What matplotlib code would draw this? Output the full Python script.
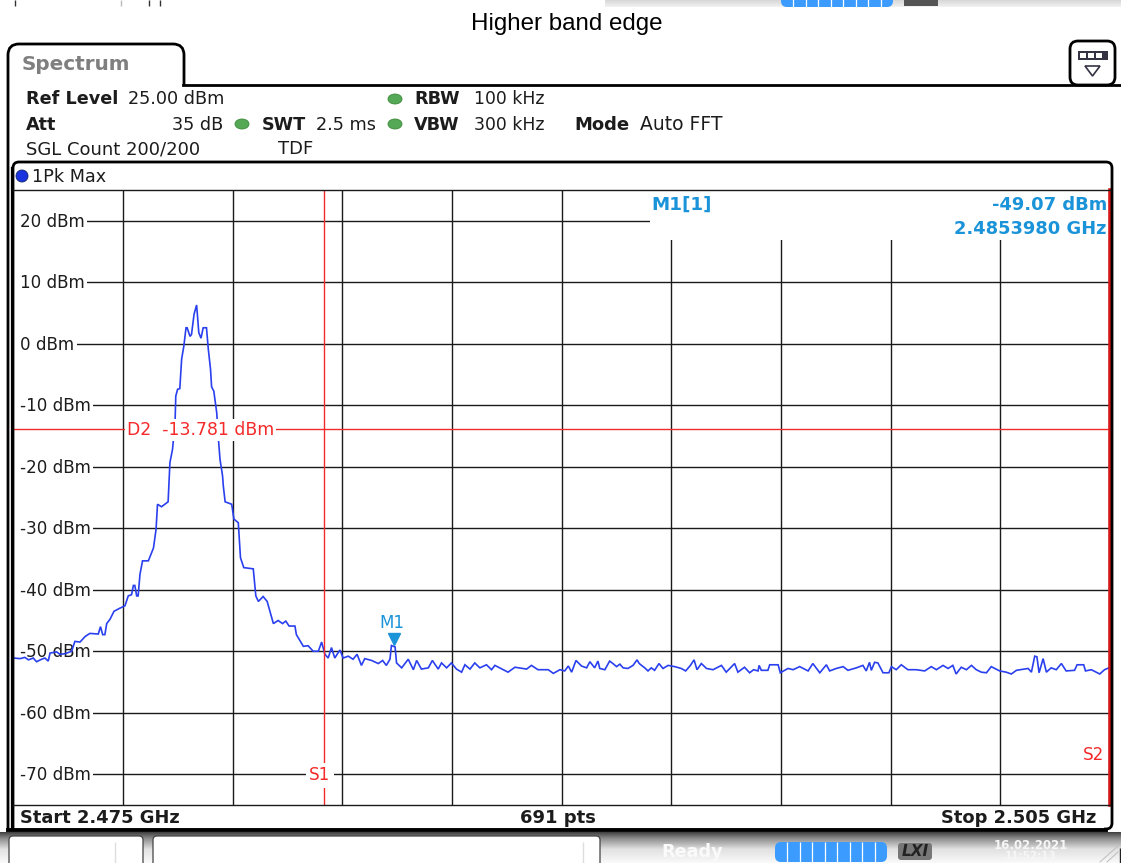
#!/usr/bin/env python3
# Redraws the "Higher band edge" spectrum analyser screenshot.
import matplotlib
matplotlib.use("Agg")
import matplotlib.pyplot as plt
import numpy as np
from matplotlib.patches import Ellipse, FancyBboxPatch, PathPatch, Polygon, Rectangle
from matplotlib.path import Path
from matplotlib.transforms import offset_copy

WIDTH, HEIGHT = 1121, 863

START_GHZ = 2.475
STOP_GHZ = 2.505
LEVEL_TICKS = [20, 10, 0, -10, -20, -30, -40, -50, -60, -70]
D2_LEVEL = -13.781
S1_GHZ = 2.48349
M1_GHZ = 2.485398
M1_LEVEL = -49.07

# Trace: MHz above the start frequency, and dBm.
trace_mhz = [
    0, .18, .31, .41, .54, .63, .77, .86, .95, 1.0, 1.18, 1.27, 1.41, 1.59, 1.68, 1.82,
    1.96, 2.09, 2.32, 2.38, 2.44, 2.50, 2.55, 2.64, 2.75, 2.91, 3.05, 3.14, 3.23, 3.28,
    3.32, 3.37, 3.41, 3.46, 3.53, 3.69, 3.83, 3.90, 3.94, 4.05, 4.23, 4.28, 4.35, 4.42,
    4.44, 4.49, 4.55, 4.60, 4.66, 4.72, 4.75, 4.83, 4.87, 4.94, 5.01, 5.07, 5.13, 5.19,
    5.28, 5.33, 5.39, 5.42, 5.48, 5.56, 5.60, 5.65, 5.72, 5.74, 5.79, 5.97, 6.03, 6.15,
    6.21, 6.30, 6.56, 6.63, 6.70, 6.83, 6.94, 7.11, 7.24, 7.36, 7.45, 7.54, 7.70, 7.74,
    7.84, 7.93, 8.06, 8.20, 8.34, 8.43, 8.52, 8.61, 8.70, 8.79, 8.93, 9.02, 9.16, 9.29,
    9.40, 9.52, 9.61, 9.80, 9.98, 10.1, 10.2, 10.3, 10.34, 10.44, 10.48, 10.62, 10.8,
    10.94, 11.03, 11.16, 11.35, 11.46, 11.62, 11.71, 11.85, 11.98, 12.12, 12.26, 12.35,
    12.49, 12.62, 12.76, 12.94, 13.08, 13.17, 13.4, 13.53, 13.72, 14.04, 14.17, 14.35,
    14.63, 14.77, 14.95, 15.08, 15.18, 15.27, 15.39, 15.54, 15.68, 15.77, 15.9, 15.99,
    16.04, 16.18, 16.31, 16.4, 16.5, 16.59, 16.68, 16.81, 16.95, 17.06, 17.12, 17.27,
    17.36, 17.45, 17.54, 17.66, 17.77, 17.91, 18.09, 18.27, 18.39, 18.52, 18.62, 18.7,
    18.82, 18.96, 19.14, 19.37, 19.5, 19.73, 19.82, 20.0, 20.14, 20.25, 20.37, 20.4,
    20.46, 20.64, 20.69, 20.92, 20.98, 21.19, 21.33, 21.51, 21.74, 21.87, 22.06, 22.24,
    22.33, 22.51, 22.70, 22.83, 23.06, 23.24, 23.33, 23.42, 23.47, 23.56, 23.65, 23.79,
    23.95, 24.02, 24.15, 24.29, 24.47, 24.70, 24.93, 25.11, 25.25, 25.43, 25.57, 25.70,
    25.79, 25.93, 26.07, 26.21, 26.34, 26.48, 26.62, 26.75, 26.98, 27.16, 27.3, 27.44,
    27.76, 27.85, 27.94, 28.0, 28.06, 28.17, 28.26, 28.39, 28.53, 28.67, 28.8, 29.03,
    29.1, 29.28, 29.33, 29.49, 29.72, 29.85, 29.97,
]
trace_dbm = [
    -51.1, -51.2, -51.0, -51.4, -51.1, -51.7, -51.3, -51.1, -51.6, -50.3, -50.1, -50.5,
    -50.4, -50.0, -48.4, -48.5, -47.6, -47.1, -47.2, -46.0, -47.3, -47.3, -45.5, -44.8,
    -43.5, -43.0, -42.6, -41.0, -40.8, -39.3, -39.3, -41.0, -41.0, -37.5, -35.3, -35.3,
    -33.2, -30.2, -26.1, -26.5, -25.7, -19.3, -17.2, -12.8, -8.5, -7.4, -7.3, -2.5,
    -0.4, 2.6, 2.6, 1.2, 1.5, 4.8, 6.3, 1.8, 0.9, 2.6, 2.6, -0.9, -4.1, -7.0, -7.7,
    -11.2, -15.0, -18.8, -21.5, -23.1, -25.7, -26.1, -28.5, -29.1, -34.8, -36.4, -36.6,
    -41.0, -41.9, -41.1, -41.9, -45.5, -45.0, -45.5, -45.1, -45.9, -45.9, -47.3, -48.3,
    -49.2, -49.1, -50.0, -50.0, -48.5, -50.5, -51.1, -49.4, -51.1, -49.8, -51.1, -50.8,
    -51.3, -50.5, -52.3, -51.2, -51.5, -52.0, -51.5, -52.3, -51.3, -49.07, -49.3, -51.9,
    -52.7, -51.3, -53.0, -51.5, -52.9, -52.7, -51.5, -52.9, -51.9, -52.7, -51.9, -52.9,
    -53.4, -52.2, -52.9, -51.9, -52.7, -52.2, -53.0, -52.3, -53.0, -53.4, -52.6, -52.9,
    -52.3, -53.0, -53.0, -53.6, -53.0, -53.2, -52.4, -53.4, -51.5, -52.4, -52.7, -51.7,
    -52.7, -51.6, -52.8, -53.0, -51.6, -52.0, -52.5, -52.1, -52.7, -52.8, -52.3, -51.4,
    -52.0, -52.7, -53.2, -52.7, -53.1, -52.0, -52.8, -52.3, -52.5, -52.8, -53.2, -52.3,
    -51.4, -53.0, -52.0, -52.8, -53.0, -52.3, -53.4, -52.0, -53.4, -52.6, -53.5, -53.0,
    -53.2, -52.3, -53.1, -53.1, -52.2, -52.2, -53.5, -52.8, -53.0, -52.5, -53.2, -52.0,
    -53.5, -52.2, -53.2, -52.8, -52.5, -53.1, -52.7, -52.3, -53.2, -51.8, -53.1, -51.8,
    -51.9, -53.5, -53.5, -52.5, -53.0, -52.2, -53.0, -53.0, -53.2, -52.5, -53.0, -52.3,
    -52.8, -52.3, -53.7, -52.6, -53.0, -52.3, -53.0, -53.4, -53.5, -52.5, -53.2, -53.4,
    -53.7, -53.1, -52.8, -53.4, -50.8, -50.9, -53.5, -51.2, -53.4, -52.7, -53.0, -52.0,
    -53.2, -53.1, -52.2, -52.2, -53.2, -53.0, -53.7, -53.0, -52.7,
]

TEXT = "#1c1c1c"
GRID = "#1a1a1a"
RED = "#f42a2a"
TRACE = "#2a40ee"
MARKER = "#1b93d9"
LED = "#55a855"
AXIS_SIZE = 12.1
HEAD_SIZE = 12.7
LABEL_NUDGE = 0.2  # dB, centres the level labels on their grid lines

plt.rcParams["font.family"] = ["DejaVu Sans"]

fig = plt.figure(figsize=(WIDTH / 100, HEIGHT / 100), dpi=100, facecolor="white")

# Screenshot frame and labels are laid out in picture pixels on this overlay.
ui = fig.add_axes([0, 0, 1, 1], zorder=5)
ui.patch.set_alpha(0)
ui.axis("off")

# Measurement area: 13.5..1110 px across, 190..805 px down.
ax = fig.add_axes([13.5 / WIDTH, 1 - 805 / HEIGHT, 1096.5 / WIDTH, 615 / HEIGHT], zorder=4)
ax.set_xlim(START_GHZ, STOP_GHZ)
ax.set_ylim(-75, 25)
ax.set_xticks([])
ax.set_yticks([])
for spine in ax.spines.values():
    spine.set_visible(False)


# Vertical grey ramp used for the instrument's status bars.
def ramp(x0, x1, y0, y1, positions, greys):
    levels = np.interp(np.linspace(0, 1, 64), positions, greys).reshape(64, 1)
    ui.imshow(np.dstack([levels] * 3), extent=(x0, x1, y1, y0), aspect="auto", zorder=1,
              interpolation="bilinear", vmin=0, vmax=1)


def label(x, y, s, bold=False, color=TEXT, ha="left", size=HEAD_SIZE):
    ui.text(x, y + 0.5, s, color=color, ha=ha, va="center", fontsize=size,
            fontweight="bold" if bold else "normal", zorder=6)


def rounded(x0, y0, x1, y1, radius=10, face="none", edge="black", lw=2.0, zorder=3):
    ui.add_patch(FancyBboxPatch((x0, y0), x1 - x0, y1 - y0,
                                boxstyle=f"round,pad=0,rounding_size={radius}",
                                fc=face, ec=edge, lw=lw, zorder=zorder))


# Open outline through the corner points, with each inner corner rounded off.
def outline(points, radius, lw, zorder=6):
    pts = np.array(points, dtype=float)
    verts, codes = [pts[0]], [Path.MOVETO]
    for prev, corner, nxt in zip(pts[:-2], pts[1:-1], pts[2:]):
        into = corner + (prev - corner) / np.linalg.norm(prev - corner) * radius
        out = corner + (nxt - corner) / np.linalg.norm(nxt - corner) * radius
        verts += [into, corner, out]
        codes += [Path.LINETO, Path.CURVE3, Path.CURVE3]
    verts.append(pts[-1])
    codes.append(Path.LINETO)
    ui.add_patch(PathPatch(Path(verts, codes), fc="none", ec="black", lw=lw, zorder=zorder))


# Blue progress bar with its white segment dividers.
def progress(x0, x1, y0, y1):
    rounded(x0, y0, x1, y1, radius=6, face="#3c9bff", edge="none", lw=0, zorder=2)
    ui.vlines(np.linspace(x0, x1, 10)[1:-1], y0, y1, color="white", lw=0.9, zorder=3)


# ---- data area ----
for ghz in np.linspace(START_GHZ, STOP_GHZ, 11)[1:-1]:
    ax.axvline(ghz, color=GRID, lw=1.0, zorder=1)
for level in LEVEL_TICKS:
    ax.axhline(level, color=GRID, lw=1.0, zorder=1)
    ax.text(2.47519, level - LABEL_NUDGE, f"{level} dBm", color=TEXT, fontsize=AXIS_SIZE, ha="left",
            va="center", zorder=2, bbox=dict(fc="white", ec="none", pad=1.5))

# The grid starts only after the level labels, and the marker read-out clears it too.
ax.add_patch(Rectangle((13, 190), 8, 615, transform=ui.transData, fc="white", ec="none", zorder=1.5))
ax.add_patch(Rectangle((650, 190), 460, 50, transform=ui.transData, fc="white", ec="none", zorder=1.5))

trace_ghz = START_GHZ + np.array(trace_mhz) / 1000
ax.plot(trace_ghz, trace_dbm, color=TRACE, lw=1.2, zorder=3, solid_joinstyle="miter")

ax.axhline(D2_LEVEL, color=RED, lw=1.0, zorder=3.5)
ax.axvline(S1_GHZ, color=RED, lw=1.0, zorder=3.5)
ax.axvline(STOP_GHZ, color="#d81818", lw=2.6, zorder=3.5, clip_on=False)
ax.text(2.4781, D2_LEVEL - 0.3, f"D2  {D2_LEVEL:.3f} dBm", color=RED, fontsize=12.4, ha="left",
        va="center", zorder=4, bbox=dict(fc="white", ec="none", pad=1.5))
ax.text(S1_GHZ - 0.00011, -70 - LABEL_NUDGE, "S1", color=RED, fontsize=AXIS_SIZE, ha="center",
        va="center", zorder=4, bbox=dict(fc="white", ec="none", pad=2.5))
ax.text(2.50484, -66.9, "S2", color=RED, fontsize=AXIS_SIZE, ha="right", va="center", zorder=4)

# Triangle sits just above the marker level, name above that.
triangle_at = offset_copy(ax.transData, fig=fig, x=0, y=4.4, units="points")
ax.plot([M1_GHZ], [M1_LEVEL], marker="v", ms=8, color=MARKER, mec=MARKER, zorder=4,
        transform=triangle_at, clip_on=False)
ax.annotate("M1", (M1_GHZ, M1_LEVEL), xytext=(-1, 16.5), textcoords="offset points", color=MARKER,
            fontsize=AXIS_SIZE, ha="center", va="center", zorder=4)

label(651, 204, "M1[1]", bold=True, color=MARKER, size=13.2)
label(1107, 204, f"{M1_LEVEL:.2f} dBm", bold=True, color=MARKER, ha="right", size=12.9)
label(1107, 228, "2.4853980 GHz", bold=True, color=MARKER, ha="right", size=12.9)

# ---- top strip left over from the screenshot above ----
ramp(605, 1121, 0, 7, [0, 1], [0.84, 0.95])
progress(781, 893, -12, 7)
ui.add_patch(Rectangle((904, 0), 34, 6, fc="#555555", ec="none", zorder=3))
ui.vlines([15, 149, 160], 0, 6, color="#333333", lw=1.0, zorder=3)
ui.vlines([121], 0, 6, color="#bbbbbb", lw=1.0, zorder=3)

# ---- title and tab ----
ui.text(567, 24, "Higher band edge", color="black", ha="center", va="center", fontsize=17.4,
        family=["Liberation Sans"], zorder=6)

outline([(8, 830), (8, 44), (184, 44), (184, 85)], 11, 2.0, zorder=3)
ui.plot([183, 1121], [85, 85], color="black", lw=2.0, zorder=3)
label(22, 64, "Spectrum", bold=True, color="#7f7f7f", size=14.4)

rounded(1070, 41, 1115, 85, radius=8, lw=2.0)
ui.add_patch(Rectangle((1078, 51), 30, 9, fc="#333344", ec="none", zorder=4))
for x in (1080, 1088, 1096):
    ui.add_patch(Rectangle((x, 53), 6, 5, fc="white", ec="none", zorder=5))
ui.add_patch(Polygon([(1085, 66), (1100, 66), (1092.5, 76)], fc="white", ec="#333344", lw=1.2, zorder=4))

# ---- settings block ----
label(26, 99, "Ref Level", bold=True)
label(128, 99, "25.00 dBm")
label(26, 124, "Att", bold=True)
label(223, 124, "35 dB", ha="right")
label(262, 124, "SWT", bold=True)
label(316, 124, "2.5 ms")
label(414, 99, "RBW", bold=True)
label(474, 99, "100 kHz", size=12.4)
label(414, 124, "VBW", bold=True)
label(474, 124, "300 kHz", size=12.4)
label(574, 124, "Mode", bold=True, size=13)
label(640, 124, "Auto FFT", size=13.5)
label(26, 149, "SGL Count 200/200", size=13)
label(278, 149, "TDF", size=13)
for x, y in [(395, 99), (242, 124), (395, 124)]:
    ui.add_patch(Ellipse((x, y), 14, 10, fc=LED, ec="#3b8a3b", lw=0.6, zorder=4))

# ---- measurement panel frame ----
outline([(13, 829), (13, 162), (1112, 162), (1112, 829), (1104, 829)], 6, 2.0)
ui.plot([11.5, 11.5], [168, 829], color="black", lw=1.6, zorder=6)
ui.plot([8, 1106], [830, 830], color="black", lw=2.8, zorder=6)
ui.plot([13, 1110], [190, 190], color=GRID, lw=1.0, zorder=6)
ui.plot([13, 1110], [805, 805], color=GRID, lw=1.0, zorder=6)
ui.add_patch(Ellipse((22, 176), 12, 12, fc="#1a35e0", ec="#10206a", lw=0.6, zorder=6))
label(32, 176, "1Pk Max")
label(20, 817, "Start 2.475 GHz", bold=True, size=12.9)
ui.text(558, 817.5, "691 pts", color=TEXT, ha="center", va="center", fontsize=13, fontweight="bold", zorder=6)
label(1096, 817, "Stop 2.505 GHz", bold=True, ha="right", size=12.9)

# ---- status bar ----
ramp(0, 1121, 832, 863, [0, 0.2, 0.55, 1], [0.25, 0.55, 0.88, 0.98])
rounded(9, 836, 143, 880, radius=4, face="white", edge="#444444", lw=0.9, zorder=2)
rounded(153, 836, 600, 880, radius=4, face="white", edge="#444444", lw=0.9, zorder=2)
ui.vlines([115, 583], 842, 863, color="#dddddd", lw=1.0, zorder=3)
label(661, 851, "Ready", bold=True, color="#fafafa")
progress(775, 887, 842, 862)
rounded(898, 843, 932, 860, radius=3, face="#777777", edge="none", lw=0, zorder=3)
ui.text(915, 851, "LXI", color="#222222", ha="center", va="center", fontsize=11, style="italic",
        fontweight="bold", zorder=6)
label(1031, 845, "16.02.2021", bold=True, color="#f6f6f6", ha="center", size=8.5)
label(1031, 855.5, "11:52:13", bold=True, color="#f6f6f6", ha="center", size=7.5)
ui.plot([1100, 1118], [862, 846], color="#bdbdbd", lw=0.7, zorder=3)
ui.plot([1107, 1118], [862, 852], color="#bdbdbd", lw=0.7, zorder=3)
ui.vlines([1120], 848, 863, color="#222222", lw=1.0, zorder=3)

ui.set_xlim(0, WIDTH)
ui.set_ylim(HEIGHT, 0)

fig.savefig("out.png", dpi=100)
